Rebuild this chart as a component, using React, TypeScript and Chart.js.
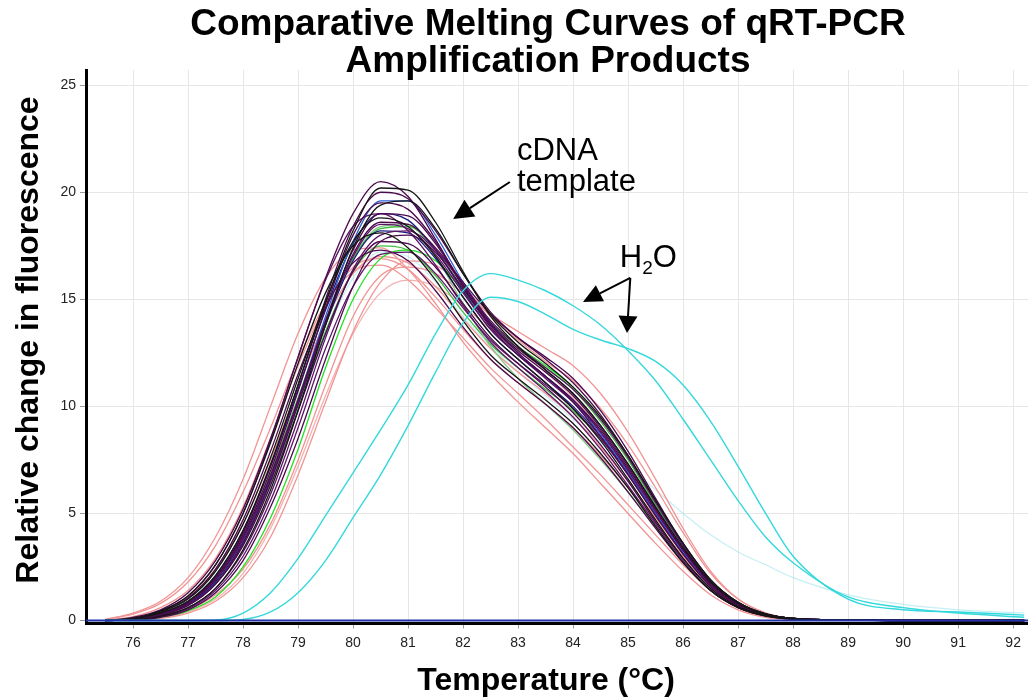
import React, { useEffect, useRef } from "react";
import { Chart, registerables } from "chart.js";

Chart.register(...registerables);

// ---------- data ----------
const temps = [75.5, 76, 76.5, 77, 77.5, 78, 78.5, 79, 79.5, 80, 80.5, 81, 81.5, 82, 82.5, 83, 83.5, 84, 84.5, 85, 85.5, 86, 86.5, 87, 87.5, 88, 89, 90, 91, 92.2];

const cdna01 = [0, 0.15, 0.5, 1.3, 2.8, 5.2, 8.5, 12.3, 16.0, 19.0, 20.5, 19.8, 17.8, 15.6, 13.8, 12.5, 11.4, 10.2, 8.6, 6.8, 4.9, 3.1, 1.6, 0.7, 0.25, 0.08, 0.03, 0, 0, 0];
const cdna02 = [0, 0.1, 0.35, 0.9, 2.1, 4.2, 7.3, 11.0, 14.8, 18.2, 20.2, 20.1, 18.6, 16.3, 14.2, 12.8, 11.7, 10.6, 9.1, 7.3, 5.3, 3.4, 1.8, 0.8, 0.3, 0.1, 0.03, 0, 0, 0];
const cdna03 = [0, 0.05, 0.3, 0.8, 1.9, 3.9, 6.8, 10.3, 14.0, 17.3, 19.0, 18.9, 17.6, 15.6, 13.8, 12.6, 11.6, 10.5, 9.0, 7.2, 5.2, 3.3, 1.7, 0.75, 0.3, 0.1, 0.03, 0, 0, 0];
const cdna04 = [0.05, 0.3, 0.8, 1.8, 3.5, 6.0, 9.0, 12.2, 14.8, 16.3, 16.6, 15.9, 14.6, 13.2, 11.8, 10.6, 9.4, 8.1, 6.8, 5.4, 4.0, 2.6, 1.4, 0.6, 0.2, 0.06, 0.02, 0, 0, 0];
const cdna05 = [0, 0.05, 0.2, 0.5, 1.2, 2.4, 4.5, 7.5, 11.0, 14.2, 16.1, 16.5, 16.2, 15.3, 14.3, 13.5, 12.7, 11.9, 10.6, 8.8, 6.6, 4.3, 2.3, 1.0, 0.35, 0.1, 0.03, 0, 0, 0];
const cdna06 = [0, 0.08, 0.35, 0.9, 2.0, 4.0, 6.9, 10.4, 14.0, 16.9, 18.3, 18.4, 17.3, 15.5, 13.8, 12.7, 11.8, 10.8, 9.3, 7.5, 5.4, 3.5, 1.8, 0.8, 0.3, 0.1, 0.03, 0, 0, 0];
const cdna07 = [0, 0.02, 0.15, 0.5, 1.3, 2.8, 5.3, 8.5, 12.2, 15.6, 17.7, 18.0, 17.2, 15.5, 13.7, 12.4, 11.4, 10.3, 8.9, 7.1, 5.2, 3.3, 1.8, 0.8, 0.3, 0.1, 0.03, 0, 0, 0];
const cdna08 = [0, 0.05, 0.3, 0.8, 1.9, 3.8, 6.7, 10.3, 14.2, 17.7, 19.6, 19.6, 18.0, 15.8, 13.9, 12.5, 11.4, 10.2, 8.7, 6.9, 5.0, 3.2, 1.7, 0.75, 0.3, 0.1, 0.03, 0, 0, 0];
const cdna09 = [0.05, 0.35, 0.9, 2.0, 3.9, 6.6, 10.0, 13.4, 16.0, 17.3, 17.4, 16.4, 14.8, 13.0, 11.5, 10.2, 9.0, 7.8, 6.4, 5.0, 3.6, 2.3, 1.2, 0.5, 0.15, 0.05, 0.02, 0, 0, 0];
const cdna10 = [0, 0.05, 0.25, 0.7, 1.7, 3.5, 6.3, 9.8, 13.4, 16.3, 17.7, 17.6, 16.5, 14.8, 13.2, 12.0, 10.9, 9.7, 8.2, 6.5, 4.6, 2.9, 1.5, 0.65, 0.25, 0.08, 0.03, 0, 0, 0];
const cdna11 = [0, 0.02, 0.15, 0.45, 1.1, 2.5, 4.8, 8.0, 11.8, 15.0, 16.9, 17.3, 16.8, 15.4, 13.9, 12.8, 11.9, 10.9, 9.5, 7.7, 5.6, 3.6, 1.9, 0.85, 0.3, 0.1, 0.03, 0, 0, 0];
const cdna12 = [0, 0.08, 0.4, 1.0, 2.3, 4.5, 7.6, 11.3, 14.9, 17.7, 18.8, 18.4, 17.0, 15.1, 13.4, 12.2, 11.1, 9.9, 8.4, 6.6, 4.7, 2.9, 1.5, 0.65, 0.25, 0.08, 0.03, 0, 0, 0];
const cdna13 = [0, 0.1, 0.45, 1.1, 2.4, 4.5, 7.5, 10.9, 14.0, 16.2, 17.0, 16.7, 15.6, 14.1, 12.7, 11.6, 10.6, 9.5, 8.1, 6.5, 4.8, 3.1, 1.6, 0.7, 0.25, 0.08, 0.03, 0, 0, 0];
const cdna14 = [0, 0.05, 0.3, 0.8, 2.0, 4.1, 7.2, 11.0, 15.0, 18.4, 20.0, 19.7, 18.2, 16.2, 14.4, 13.2, 12.2, 11.1, 9.6, 7.7, 5.6, 3.6, 1.9, 0.85, 0.3, 0.1, 0.03, 0, 0, 0];
const cdna15 = [0, 0.06, 0.3, 0.8, 1.8, 3.7, 6.5, 10.0, 13.8, 16.9, 18.4, 18.5, 17.0, 14.8, 12.8, 11.3, 10.1, 8.9, 7.5, 6.0, 4.4, 2.8, 1.5, 0.65, 0.25, 0.08, 0.03, 0, 0, 0];
const cdna16 = [0, 0.02, 0.1, 0.35, 0.9, 2.0, 3.9, 6.8, 10.2, 13.5, 15.8, 16.8, 16.6, 15.6, 14.2, 13.1, 12.1, 11.2, 9.9, 8.2, 6.2, 4.1, 2.2, 1.0, 0.35, 0.1, 0.03, 0, 0, 0];
const cdna17 = [0, 0.07, 0.35, 0.9, 2.1, 4.2, 7.2, 10.8, 14.5, 17.6, 19.0, 18.7, 17.3, 15.4, 13.6, 12.4, 11.4, 10.3, 8.8, 7.0, 5.0, 3.2, 1.7, 0.75, 0.28, 0.09, 0.03, 0, 0, 0];
const cdna18 = [0, 0.03, 0.18, 0.55, 1.4, 3.0, 5.6, 9.0, 12.7, 15.6, 17.1, 17.2, 16.2, 14.6, 13.1, 12.0, 11.0, 9.9, 8.5, 6.8, 4.9, 3.1, 1.6, 0.7, 0.25, 0.08, 0.03, 0, 0, 0];
const cdna19 = [0, 0.1, 0.45, 1.15, 2.6, 5.0, 8.3, 12.0, 15.3, 17.5, 18.1, 17.4, 15.9, 14.0, 12.4, 11.3, 10.3, 9.2, 7.8, 6.2, 4.4, 2.7, 1.4, 0.6, 0.2, 0.06, 0.02, 0, 0, 0];
const cdna20 = [0, 0.06, 0.3, 0.8, 1.9, 3.8, 6.7, 10.2, 13.9, 17.0, 18.5, 18.3, 17.1, 15.3, 13.6, 12.4, 11.3, 10.2, 8.8, 7.0, 5.1, 3.3, 1.7, 0.75, 0.28, 0.09, 0.03, 0, 0, 0];
const cdna21 = [0, 0.02, 0.12, 0.4, 1.0, 2.2, 4.3, 7.2, 10.5, 13.4, 15.3, 15.9, 15.6, 14.7, 13.6, 12.6, 11.6, 10.4, 8.9, 7.1, 5.1, 3.2, 1.6, 0.7, 0.25, 0.08, 0.03, 0, 0, 0];
const cdna22 = [0, 0.06, 0.32, 0.85, 2.0, 4.0, 7.0, 10.7, 14.6, 18.0, 19.5, 19.2, 17.7, 15.7, 13.9, 12.7, 11.7, 10.6, 9.1, 7.3, 5.3, 3.4, 1.8, 0.8, 0.3, 0.1, 0.03, 0, 0, 0];
const cdna23 = [0, 0.03, 0.2, 0.6, 1.5, 3.2, 5.9, 9.4, 13.2, 16.4, 18.0, 18.2, 17.3, 15.7, 14.0, 12.8, 11.8, 10.8, 9.4, 7.6, 5.5, 3.5, 1.8, 0.8, 0.3, 0.1, 0.03, 0, 0, 0];
const cdna24 = [0, 0.08, 0.4, 1.05, 2.4, 4.7, 7.9, 11.5, 14.6, 16.7, 17.3, 16.8, 15.4, 13.7, 12.2, 11.1, 10.1, 9.0, 7.6, 6.0, 4.3, 2.7, 1.4, 0.6, 0.22, 0.07, 0.02, 0, 0, 0];
const cdna25 = [0, 0.03, 0.2, 0.6, 1.5, 3.3, 6.1, 9.8, 13.8, 17.4, 19.4, 19.6, 18.3, 16.2, 14.3, 13.0, 12.0, 10.9, 9.5, 7.7, 5.6, 3.6, 1.9, 0.85, 0.32, 0.1, 0.03, 0, 0, 0];
const cdna26 = [0, 0.05, 0.28, 0.75, 1.8, 3.6, 6.4, 9.9, 13.5, 16.3, 17.5, 17.3, 16.1, 14.4, 12.9, 11.8, 10.8, 9.8, 8.5, 6.9, 5.0, 3.2, 1.7, 0.75, 0.28, 0.09, 0.03, 0, 0, 0];
const cdna27 = [0, 0.04, 0.25, 0.7, 1.7, 3.6, 6.5, 10.1, 13.9, 17.1, 18.6, 18.5, 17.4, 15.8, 14.3, 13.2, 12.3, 11.3, 9.8, 7.9, 5.7, 3.6, 1.9, 0.85, 0.3, 0.1, 0.03, 0, 0, 0];
const cdna28 = [0.02, 0.18, 0.6, 1.4, 2.9, 5.3, 8.5, 11.9, 14.7, 16.5, 16.9, 16.4, 15.1, 13.6, 12.2, 11.1, 10.1, 9.0, 7.7, 6.2, 4.6, 3.0, 1.6, 0.7, 0.25, 0.08, 0.03, 0, 0, 0];
const cdna29 = [0, 0.05, 0.28, 0.75, 1.8, 3.7, 6.6, 10.1, 13.8, 16.8, 18.2, 18.1, 16.9, 15.1, 13.4, 12.2, 11.1, 10.0, 8.6, 6.9, 5.0, 3.2, 1.7, 0.75, 0.28, 0.09, 0.03, 0, 0, 0];
const cdna30 = [0, 0.1, 0.45, 1.15, 2.6, 5.0, 8.4, 12.3, 15.9, 18.4, 19.0, 18.2, 16.6, 14.7, 13.0, 11.8, 10.7, 9.5, 8.0, 6.3, 4.5, 2.8, 1.4, 0.6, 0.22, 0.07, 0.02, 0, 0, 0];

const waterA = [0, 0, 0, 0, 0.02, 0.35, 1.3, 2.9, 4.9, 6.9, 8.9, 11.0, 13.4, 15.4, 16.2, 15.9, 15.4, 14.7, 13.8, 12.6, 11.2, 9.4, 7.5, 5.6, 3.9, 2.7, 1.1, 0.6, 0.35, 0.15];
const waterB = [0, 0, 0, 0, 0, 0.05, 0.4, 1.3, 2.8, 4.8, 6.8, 9.1, 11.6, 13.9, 15.1, 14.9, 14.3, 13.6, 13.1, 12.7, 12.1, 11.0, 9.3, 7.2, 5.0, 3.0, 1.0, 0.5, 0.4, 0.25];
const waterFaint = [0, 0.05, 0.25, 0.7, 1.7, 3.5, 6.3, 9.8, 13.3, 16.0, 17.2, 17.0, 15.8, 14.2, 12.8, 11.6, 10.5, 9.4, 8.3, 7.2, 6.1, 5.0, 4.0, 3.2, 2.6, 2.0, 1.2, 0.75, 0.5, 0.35];

const baselineTemps = [75.1, 92.3];
const baselineValues = [0, 0];

const xTicks = [76, 77, 78, 79, 80, 81, 82, 83, 84, 85, 86, 87, 88, 89, 90, 91, 92];
const yTicks = [0, 5, 10, 15, 20, 25];

const titleLines = ["Comparative Melting Curves of qRT-PCR", "Amplification Products"];
const xTitle = "Temperature (°C)";
const yTitle = "Relative change in fluorescence";
const cdnaLabel = ["cDNA", "template"];
const waterLabel = ["H", "2", "O"];

// ---------- styling ----------
const PURPLE = "#4d0b4f";
const PURPLE2 = "#5e1566";
const BLACK = "#161616";
const PINK = "#f19494";
const PINK2 = "#f5b1b1";
const GREEN = "#3fbf3f";
const GREEN2 = "#22e022";
const LGREEN = "#86c986";
const BLUE = "#2f5fd0";
const NAVY = "#1c1c80";
const CYAN = "#35d8dc";

type Spec = { data: number[]; color: string; order: number };
const cdnaSpecs: Spec[] = [
  { data: cdna04, color: PINK, order: 6 },
  { data: cdna05, color: PINK, order: 6 },
  { data: cdna09, color: PINK, order: 6 },
  { data: cdna13, color: PINK, order: 6 },
  { data: cdna16, color: PINK, order: 6 },
  { data: cdna21, color: PINK2, order: 6 },
  { data: cdna28, color: PINK, order: 6 },
  { data: cdna06, color: GREEN, order: 5 },
  { data: cdna11, color: GREEN2, order: 5 },
  { data: cdna15, color: LGREEN, order: 5 },
  { data: cdna26, color: GREEN, order: 5 },
  { data: cdna08, color: BLUE, order: 4 },
  { data: cdna17, color: NAVY, order: 4 },
  { data: cdna29, color: NAVY, order: 4 },
  { data: cdna01, color: PURPLE, order: 3 },
  { data: cdna03, color: PURPLE, order: 3 },
  { data: cdna07, color: PURPLE, order: 3 },
  { data: cdna10, color: PURPLE, order: 3 },
  { data: cdna14, color: PURPLE, order: 3 },
  { data: cdna18, color: PURPLE2, order: 3 },
  { data: cdna20, color: PURPLE2, order: 3 },
  { data: cdna22, color: PURPLE, order: 3 },
  { data: cdna23, color: PURPLE2, order: 3 },
  { data: cdna24, color: PURPLE, order: 3 },
  { data: cdna27, color: PURPLE, order: 3 },
  { data: cdna30, color: PURPLE2, order: 3 },
  { data: cdna02, color: BLACK, order: 2 },
  { data: cdna12, color: BLACK, order: 2 },
  { data: cdna19, color: BLACK, order: 2 },
  { data: cdna25, color: BLACK, order: 2 },
];

const FONT = '"Liberation Sans", Arial, Helvetica, sans-serif';

function toPoints(xs: number[], ys: number[]) {
  return xs.map((x, i) => ({ x, y: ys[i] }));
}

function drawArrow(ctx: CanvasRenderingContext2D, x0: number, y0: number, x1: number, y1: number, headLen: number, headW: number) {
  const ang = Math.atan2(y1 - y0, x1 - x0);
  const bx = x1 - Math.cos(ang) * headLen;
  const by = y1 - Math.sin(ang) * headLen;
  ctx.beginPath();
  ctx.moveTo(x0, y0);
  ctx.lineTo(bx, by);
  ctx.stroke();
  const px = -Math.sin(ang) * headW / 2;
  const py = Math.cos(ang) * headW / 2;
  ctx.beginPath();
  ctx.moveTo(x1, y1);
  ctx.lineTo(bx + px, by + py);
  ctx.lineTo(bx - px, by - py);
  ctx.closePath();
  ctx.fill();
}

const overlayPlugin = {
  id: "overlayText",
  afterDraw(chart: any) {
    const ctx: CanvasRenderingContext2D = chart.ctx;
    const xs = chart.scales.x;
    const ys = chart.scales.y;
    const px = (v: number) => xs.getPixelForValue(v);
    const py = (v: number) => ys.getPixelForValue(v);
    ctx.save();
    ctx.fillStyle = "#000";
    ctx.strokeStyle = "#000";
    // title
    ctx.textAlign = "center";
    ctx.textBaseline = "alphabetic";
    ctx.font = `bold 37px ${FONT}`;
    ctx.fillText(titleLines[0], 548, 35);
    ctx.fillText(titleLines[1], 548, 72);
    // axis titles
    ctx.font = `bold 32px ${FONT}`;
    ctx.fillText(xTitle, 546, 690);
    ctx.save();
    ctx.translate(38, 340);
    ctx.rotate(-Math.PI / 2);
    ctx.fillText(yTitle, 0, 0);
    ctx.restore();
    // cDNA annotation
    ctx.textAlign = "left";
    ctx.font = `31px ${FONT}`;
    ctx.fillText(cdnaLabel[0], px(82.98), py(21.5));
    ctx.fillText(cdnaLabel[1], px(82.98), py(20.05));
    ctx.lineWidth = 2;
    drawArrow(ctx, px(82.85), py(20.48), px(81.82), py(18.75), 20, 20);
    // H2O annotation
    let hx = px(84.85);
    const hy = py(16.51);
    ctx.font = `31px ${FONT}`;
    ctx.fillText(waterLabel[0], hx, hy);
    hx += ctx.measureText(waterLabel[0]).width;
    ctx.font = `19px ${FONT}`;
    ctx.fillText(waterLabel[1], hx, hy + 7);
    hx += ctx.measureText(waterLabel[1]).width;
    ctx.font = `31px ${FONT}`;
    ctx.fillText(waterLabel[2], hx, hy);
    drawArrow(ctx, px(85.04), py(16.0), px(84.18), py(14.88), 19, 18);
    drawArrow(ctx, px(85.04), py(16.0), px(84.98), py(13.43), 17, 19);
    ctx.restore();
  },
};

export default function App() {
  const ref = useRef<HTMLCanvasElement | null>(null);

  useEffect(() => {
    if (!ref.current) return;
    const datasets: any[] = [];
    cdnaSpecs.forEach((s, i) => {
      datasets.push({
        label: `cDNA ${i + 1}`,
        data: toPoints(temps, s.data),
        borderColor: s.color,
        borderWidth: 1.3,
        pointRadius: 0,
        fill: false,
        cubicInterpolationMode: "monotone",
        order: s.order,
      });
    });
    datasets.push({
      label: "H2O faint",
      data: toPoints(temps, waterFaint),
      borderColor: "rgba(150,225,235,0.55)",
      borderWidth: 1.2,
      pointRadius: 0,
      cubicInterpolationMode: "monotone",
      order: 7,
    });
    [waterA, waterB].forEach((w, i) => {
      datasets.push({
        label: `H2O ${i + 1}`,
        data: toPoints(temps, w),
        borderColor: CYAN,
        borderWidth: 1.4,
        pointRadius: 0,
        cubicInterpolationMode: "monotone",
        order: 1,
      });
    });
    datasets.push({
      label: "baseline",
      data: toPoints(baselineTemps, baselineValues),
      borderColor: "#2233a8",
      borderWidth: 2,
      pointRadius: 0,
      order: 0,
    });

    const chart = new Chart(ref.current, {
      type: "line",
      data: { datasets },
      plugins: [overlayPlugin],
      options: {
        animation: false,
        responsive: false,
        devicePixelRatio: 1,
        layout: { padding: { top: 70, left: 0, right: 0, bottom: 0 } },
        plugins: {
          legend: { display: false },
          tooltip: { enabled: false },
          title: { display: false },
        },
        scales: {
          x: {
            type: "linear",
            min: 75.145,
            max: 92.27,
            afterFit: (s: any) => { s.height = 75.5; },
            afterBuildTicks: (s: any) => { s.ticks = xTicks.map((v) => ({ value: v })); },
            grid: { color: "#e6e6e6", lineWidth: 1, tickLength: 5, tickColor: "#9a9a9a" },
            border: { color: "#000", width: 3 },
            ticks: { color: "#222", padding: 6, font: { family: FONT, size: 14 }, maxRotation: 0, autoSkip: false },
          },
          y: {
            type: "linear",
            min: -0.14,
            max: 25.71,
            afterFit: (s: any) => { s.width = 86; },
            afterBuildTicks: (s: any) => { s.ticks = yTicks.map((v) => ({ value: v })); },
            grid: { color: "#e6e6e6", lineWidth: 1, tickLength: 6, tickColor: "#9a9a9a" },
            border: { color: "#000", width: 3 },
            ticks: { color: "#222", padding: 4, font: { family: FONT, size: 14 }, autoSkip: false },
          },
        },
      },
    });
    return () => chart.destroy();
  }, []);

  return (
    <div style={{ position: "fixed", left: 0, top: 0, width: 1028, height: 699, background: "#fff" }}>
      <canvas ref={ref} width={1028} height={699} style={{ display: "block", width: 1028, height: 699 }} />
    </div>
  );
}
